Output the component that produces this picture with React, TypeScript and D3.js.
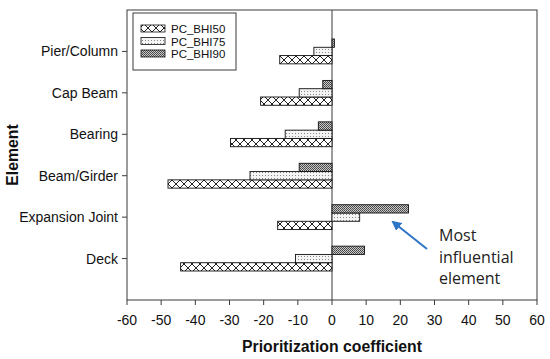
import { useMemo } from 'react';
import * as d3 from 'd3';

// categories listed bottom to top
const categories = ['Deck', 'Expansion Joint', 'Beam/Girder', 'Bearing', 'Cap Beam', 'Pier/Column'];
const seriesNames = ['PC_BHI50', 'PC_BHI75', 'PC_BHI90'];
const bhi50 = [-44.3, -15.9, -48, -29.7, -20.9, -15.3];
const bhi75 = [-10.7, 8.1, -24, -13.7, -9.6, -5.3];
const bhi90 = [9.5, 22.4, -9.6, -4, -2.7, 0.7];
const xTicks = [-60, -50, -40, -30, -20, -10, 0, 10, 20, 30, 40, 50, 60];

const W = 550;
const H = 359;
const frame = '#3a3a3a';

const App = () => {
  const x = useMemo(() => d3.scaleLinear().domain([-60, 60]).range([127, 537]), []);
  const y = useMemo(() => d3.scaleLinear().domain([0, 7]).range([300, 10]), []);

  const series = [bhi50, bhi75, bhi90];
  const fills = ['url(#pat50)', 'url(#pat75)', 'url(#pat90)'];
  const barUnits = 0.2; // each bar height in category units

  // bar stacking inside group: BHI50 bottom, BHI90 top
  const bars = [];
  categories.forEach((c, i) => {
    const center = i + 1;
    series.forEach((s, k) => {
      const v = s[i];
      const yTop = y(center - 0.3 + (k + 1) * barUnits);
      const yBot = y(center - 0.3 + k * barUnits);
      const x0 = x(Math.min(0, v));
      const x1 = x(Math.max(0, v));
      bars.push(
        <rect key={c + k} x={x0} y={yTop} width={x1 - x0} height={yBot - yTop}
          fill={fills[k]} stroke="#111" strokeWidth={0.9} />
      );
    });
  });

  const [left, right] = x.range();
  const [bottom, top] = y.range();

  return (
    <svg width={W} height={H} style={{ position: 'absolute', left: 0, top: 0, background: '#fff' }}
      fontFamily="'Liberation Sans', Arial, sans-serif">
      <defs>
        <pattern id="pat50" width="8" height="8" patternUnits="userSpaceOnUse">
          <rect width="8" height="8" fill="#fff" />
          <path d="M0,0 L8,8 M8,0 L0,8" stroke="#222" strokeWidth="1" />
        </pattern>
        <pattern id="pat75" width="3" height="3" patternUnits="userSpaceOnUse">
          <rect width="3" height="3" fill="#f4f4f4" />
          <rect x="1" y="1" width="1" height="1" fill="#888" />
        </pattern>
        <pattern id="pat90" width="2" height="2" patternUnits="userSpaceOnUse">
          <rect width="2" height="2" fill="#c8c8c8" />
          <rect x="0" y="0" width="1" height="1" fill="#444" />
          <rect x="1" y="1" width="1" height="1" fill="#555" />
        </pattern>
        <marker id="arrow" viewBox="0 0 10 10" refX="8" refY="5" markerWidth="5" markerHeight="5" orient="auto">
          <path d="M0,0 L10,5 L0,10 z" fill="#2e75c6" />
        </marker>
      </defs>

      {/* frame */}
      <rect x={left} y={top} width={right - left} height={bottom - top} fill="none" stroke={frame} strokeWidth={1} />
      <line x1={x(0)} x2={x(0)} y1={top} y2={bottom} stroke={frame} strokeWidth={1} />

      {bars}

      {/* x axis */}
      {xTicks.map(t => (
        <g key={t}>
          <line x1={x(t)} x2={x(t)} y1={bottom} y2={bottom + 5} stroke={frame} />
          <text x={x(t)} y={bottom + 25} textAnchor="middle" fontSize={14} fill="#111">{t}</text>
        </g>
      ))}
      <text x={x(0)} y={352} textAnchor="middle" fontSize={15.8} fontWeight="bold" fill="#111">
        Prioritization coefficient
      </text>

      {/* y axis */}
      {categories.map((c, i) => (
        <g key={c}>
          <line x1={left - 5} x2={left} y1={y(i + 1)} y2={y(i + 1)} stroke={frame} />
          <text x={left - 9} y={y(i + 1) + 5} textAnchor="end" fontSize={14} fill="#111">{c}</text>
        </g>
      ))}
      <text transform={`translate(18,${(top + bottom) / 2}) rotate(-90)`} textAnchor="middle"
        fontSize={15.8} fontWeight="bold" fill="#111">Element</text>

      {/* legend */}
      <rect x={133} y={13} width={103} height={57} fill="#fff" stroke={frame} strokeWidth={1} />
      {seriesNames.map((n, k) => (
        <g key={n}>
          <rect x={141} y={25 + k * 12.5} width={24} height={7} fill={fills[k]} stroke="#111" strokeWidth={0.8} />
          <text x={171} y={33 + k * 12.5} fontSize={11.5} fill="#111">{n}</text>
        </g>
      ))}

      {/* annotation */}
      <line x1={427} y1={249} x2={393} y2={222} stroke="#2e75c6" strokeWidth={2} markerEnd="url(#arrow)" />
      <g fontFamily="'Open Sans', Carlito, sans-serif" fontSize={16} fill="#222">
        <text x={439} y={241}>Most</text>
        <text x={439} y={263}>influential</text>
        <text x={439} y={284}>element</text>
      </g>
    </svg>
  );
};

export default App;
